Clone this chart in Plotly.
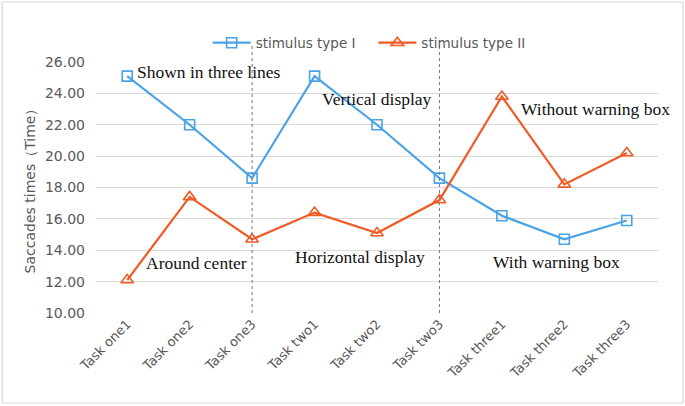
import plotly.graph_objects as go

categories = ["Task one1", "Task one2", "Task one3", "Task two1", "Task two2",
              "Task two3", "Task three1", "Task three2", "Task three3"]
type_one = [25.1, 22.0, 18.6, 25.1, 22.0, 18.6, 16.2, 14.7, 15.9]
type_two = [12.1, 17.4, 14.7, 16.4, 15.1, 17.2, 23.8, 18.2, 20.2]
y_ticks = [10, 12, 14, 16, 18, 20, 22, 24, 26]
series_names = ["stimulus type I", "stimulus type II"]

notes = [
    ("Shown in three lines", 0.12, 25.36),
    ("Vertical display", 3.08, 23.64),
    ("Without warning box", 6.28, 23.0),
    ("Around center", 0.27, 13.19),
    ("Horizontal display", 2.65, 13.57),
    ("With warning box", 5.82, 13.25),
]

BLUE = "#4AA3E6"
ORANGE = "#F05A24"
GREY = "#595959"
TICKFONT = "DejaVu Sans"

fig = go.Figure()
fig.add_trace(go.Scatter(
    x=categories, y=type_one, name=series_names[0] + "\u00a0\u00a0\u00a0", mode="lines+markers",
    line=dict(color=BLUE, width=2.2),
    marker=dict(symbol="square-open", size=10, color=BLUE, line=dict(width=1.6)),
))
fig.add_trace(go.Scatter(
    x=categories, y=type_two, name=series_names[1], mode="lines+markers",
    line=dict(color=ORANGE, width=2.2),
    marker=dict(symbol="triangle-up-open", size=11, color=ORANGE, line=dict(width=1.6)),
))

for text, xi, yv in notes:
    fig.add_annotation(x=xi, y=yv, xref="x", yref="y", text=text, showarrow=False,
                       xanchor="left", yanchor="middle",
                       font=dict(family="Liberation Serif", size=17.5, color="#111111"))

for idx in (2, 5):
    fig.add_shape(type="line", xref="x", yref="paper", x0=idx, x1=idx, y0=0, y1=1.07,
                  line=dict(color="#777777", width=1, dash="dot"))

# chart-area border
fig.add_shape(type="rect", xref="paper", yref="paper", x0=-0.167, x1=1.0445,
              y0=-0.3586, y1=1.239, line=dict(color="#D9D9D9", width=1.2),
              fillcolor="rgba(0,0,0,0)", layer="below")

fig.update_layout(
    width=685, height=406,
    margin=dict(l=96, r=27, t=62, b=93),
    paper_bgcolor="white", plot_bgcolor="white",
    font=dict(family=TICKFONT, color=GREY),
    showlegend=True,
    legend=dict(orientation="h", x=0.486, xanchor="center", y=1.076, yanchor="middle",
                font=dict(size=13.5, color=GREY, family=TICKFONT), bgcolor="rgba(0,0,0,0)",
                itemwidth=38),
    xaxis=dict(type="category", tickangle=-45, tickfont=dict(size=13, color=GREY, family=TICKFONT),
               showgrid=False, showline=False, ticks="", range=[-0.5, 8.5], automargin=False),
    yaxis=dict(range=[10, 26], tickvals=y_ticks, tickformat=".2f",
               tickfont=dict(size=14, color=GREY, family=TICKFONT), gridcolor="#D9D9D9", gridwidth=1,
               zeroline=False, showline=False, ticks="", ticklabelstandoff=10, automargin=False,
               title=dict(text="Saccades times（Time）",
                          font=dict(size=14, color=GREY, family="DejaVu Sans"),
                          standoff=6)),
)

fig.write_html("out.html", config={"displayModeBar": False},
               post_script="document.body.style.margin='0';")
